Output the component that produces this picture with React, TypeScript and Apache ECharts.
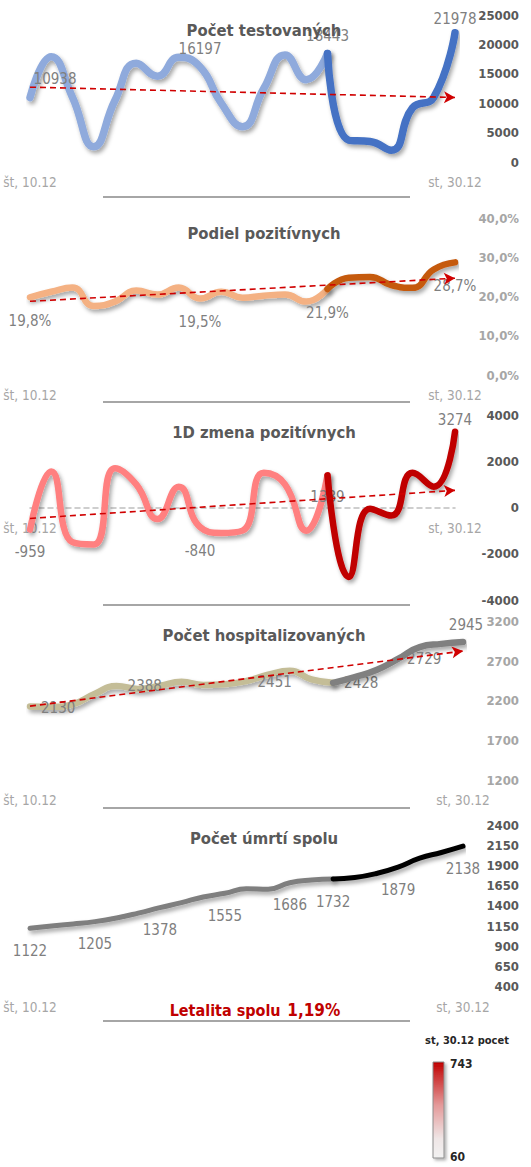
import React, { useEffect, useRef } from "react";
import * as echarts from "echarts";

const CATEGORIES = [
  "št, 10.12", "pi, 11.12", "so, 12.12", "ne, 13.12", "po, 14.12", "ut, 15.12", "st, 16.12",
  "št, 17.12", "pi, 18.12", "so, 19.12", "ne, 20.12", "po, 21.12", "ut, 22.12", "st, 23.12",
  "št, 24.12", "pi, 25.12", "so, 26.12", "ne, 27.12", "po, 28.12", "ut, 29.12", "st, 30.12",
];

const TESTED = [10938, 17900, 11000, 2600, 10500, 16800, 14600, 17800, 16197, 10000, 6000, 12500, 18200, 14000, 18443, 3700, 3500, 2000, 9200, 11000, 21978];
const POSITIVE_SHARE = [19.8, 21.2, 22.3, 17.6, 18.7, 21.5, 20.5, 22.3, 19.5, 21.2, 19.7, 20.2, 20.5, 18.7, 21.9, 24.8, 25.0, 22.9, 22.2, 26.9, 28.7];
const DAILY_CHANGE = [-959, 1560, -1500, -1600, 1700, 1000, -500, 900, -840, -1100, -1000, 1500, 1000, -1000, 1389, -3000, -50, -350, 1500, 900, 3274];
const HOSPITALIZED = [2130, 2125, 2160, 2290, 2388, 2350, 2390, 2440, 2400, 2410, 2451, 2530, 2580, 2470, 2428, 2500, 2590, 2729, 2880, 2920, 2945];
const DEATHS = [1122, 1150, 1175, 1205, 1250, 1310, 1378, 1440, 1510, 1555, 1610, 1605, 1686, 1720, 1732, 1750, 1800, 1879, 1990, 2060, 2138];

const TITLES = ["Počet testovaných", "Podiel pozitívnych", "1D zmena pozitívnych", "Počet hospitalizovaných", "Počet úmrtí spolu"];
const SPLIT_INDEX = 14;
const LETALITA = "1,19%";
const LEGEND_TITLE = "st, 30.12 pocet";
const LEGEND_MAX = "743";
const LEGEND_MIN = "60";

const FONT = "'DejaVu Sans Condensed', 'DejaVu Sans', sans-serif";
const DARK_TXT = "#595959";
const LIGHT_TXT = "#a6a6a6";
const LABEL_TXT = "#7f7f7f";
const TREND = "#d00000";

type Lab = { i: number; pos: string; offset?: number[]; distance?: number };

function trendEnds(vals: number[]) {
  const n = vals.length;
  let sx = 0, sy = 0, sxx = 0, sxy = 0;
  vals.forEach((v, i) => { sx += i; sy += v; sxx += i * i; sxy += i * v; });
  const b = (n * sxy - sx * sy) / (n * sxx - sx * sx);
  const a = (sy - b * sx) / n;
  return [a, a + b * (n - 1)];
}

function makeData(vals: number[], from: number, to: number, labels: Lab[], fmt: (v: number) => string) {
  return vals.map((v, i) => {
    if (i < from || i > to) return null;
    const lab = labels.find((l) => l.i === i);
    if (lab) {
      return {
        value: v,
        label: {
          show: true,
          position: lab.pos,
          offset: lab.offset || [0, 0],
          distance: lab.distance ?? 8,
          formatter: fmt(v),
          color: LABEL_TXT,
          fontSize: 15,
          fontFamily: FONT,
        },
      };
    }
    return v;
  });
}

type PanelCfg = {
  vals: number[];
  light: string;
  dark: string;
  width: number;
  top: number;
  height: number;
  right: number;
  min: number;
  max: number;
  interval: number;
  tickColor: string;
  axisFmt: (v: number) => string;
  labelFmt: (v: number) => string;
  labels: Lab[];
  trend: boolean;
  zeroLine?: boolean;
};

export default function App() {
  const ref = useRef<HTMLDivElement>(null);

  useEffect(() => {
    if (!ref.current) return;
    const chart = echarts.init(ref.current, undefined, { renderer: "svg" });

    const num = (v: number) => String(v);
    const pct = (v: number) => v.toFixed(1).replace(".", ",") + "%";

    const panels: PanelCfg[] = [
      {
        vals: TESTED, light: "#8faadc", dark: "#4472c4", width: 7.5, top: 15, height: 147, right: 76,
        min: 0, max: 25000, interval: 5000, tickColor: DARK_TXT, axisFmt: num, labelFmt: num,
        labels: [
          { i: 0, pos: "top", offset: [25, 0], distance: 10 },
          { i: 8, pos: "top", distance: 9 },
          { i: 14, pos: "top", distance: 9 },
          { i: 20, pos: "top", distance: 5 },
        ],
        trend: true,
      },
      {
        vals: POSITIVE_SHARE, light: "#f4b183", dark: "#c55a11", width: 6.5, top: 218, height: 157, right: 76,
        min: 0, max: 40, interval: 10, tickColor: LIGHT_TXT, axisFmt: pct, labelFmt: pct,
        labels: [
          { i: 0, pos: "bottom", distance: 15 },
          { i: 8, pos: "bottom", distance: 15 },
          { i: 14, pos: "bottom", distance: 15 },
          { i: 20, pos: "bottom", distance: 15 },
        ],
        trend: true,
      },
      {
        vals: DAILY_CHANGE, light: "#ff8080", dark: "#c00000", width: 6.5, top: 415, height: 185, right: 76,
        min: -4000, max: 4000, interval: 2000, tickColor: DARK_TXT, axisFmt: num, labelFmt: num,
        labels: [
          { i: 0, pos: "bottom", distance: 14 },
          { i: 8, pos: "bottom", distance: 16 },
          { i: 14, pos: "bottom", distance: 13 },
          { i: 20, pos: "top", distance: 3 },
        ],
        trend: true,
        zeroLine: true,
      },
      {
        vals: HOSPITALIZED, light: "#c4bd97", dark: "#808080", width: 6.5, top: 621.7, height: 158.3, right: 68,
        min: 1200, max: 3200, interval: 500, tickColor: LIGHT_TXT, axisFmt: num, labelFmt: num,
        labels: [
          { i: 0, pos: "right", offset: [0, 2], distance: 10 },
          { i: 4, pos: "right", distance: 10 },
          { i: 10, pos: "right", offset: [0, 1], distance: 10 },
          { i: 14, pos: "right", distance: 10 },
          { i: 17, pos: "right", distance: 8 },
          { i: 20, pos: "top", offset: [3, 0], distance: 8 },
        ],
        trend: true,
      },
      {
        vals: DEATHS, light: "#7f7f7f", dark: "#000000", width: 5, top: 825, height: 161.7, right: 68,
        min: 400, max: 2400, interval: 250, tickColor: DARK_TXT, axisFmt: num, labelFmt: num,
        labels: [0, 3, 6, 9, 12, 14, 17, 20].map((i) => ({ i, pos: "bottom", distance: 14 })),
        trend: false,
      },
    ];

    const grid: any[] = [];
    const xAxis: any[] = [];
    const yAxis: any[] = [];
    const series: any[] = [];
    const title: any[] = [];
    const titleY = [30, 233, 432, 635, 838];

    panels.forEach((p, k) => {
      grid.push({ left: 30, right: p.right, top: p.top, height: p.height, containLabel: false });
      const zeroOffset = p.zeroLine ? -(p.height * (0 - p.min)) / (p.max - p.min) : 0;
      xAxis.push({
        type: "category",
        gridIndex: k,
        data: CATEGORIES,
        boundaryGap: false,
        offset: zeroOffset,
        axisTick: { show: false },
        axisLine: p.zeroLine
          ? { show: true, onZero: false, lineStyle: { color: "#bfbfbf", type: [5, 4], width: 1.5 } }
          : { show: false, onZero: false },
        splitLine: { show: false },
        axisLabel: {
          interval: (i: number) => i === 0 || i === CATEGORIES.length - 1,
          color: LIGHT_TXT,
          fontSize: 13.5,
          fontFamily: FONT,
          margin: 13,
          showMinLabel: true,
          showMaxLabel: true,
        },
      });
      yAxis.push({
        type: "value",
        gridIndex: k,
        position: "right",
        min: p.min,
        max: p.max,
        interval: p.interval,
        splitLine: { show: false },
        axisLine: { show: false },
        axisTick: { show: false },
        axisLabel: {
          formatter: p.axisFmt,
          color: p.tickColor,
          fontWeight: "bold",
          fontSize: 13,
          fontFamily: FONT,
          align: "right",
          margin: 519 - (531 - p.right),
        },
      });
      const shadow = {
        shadowColor: "rgba(0,0,0,0.35)",
        shadowBlur: 4,
        shadowOffsetX: 2,
        shadowOffsetY: 3,
      };
      const base = {
        type: "line",
        xAxisIndex: k,
        yAxisIndex: k,
        smooth: 0.5,
        symbol: "circle",
        symbolSize: 2,
        showSymbol: true,
        showAllSymbol: true,
        connectNulls: false,
        itemStyle: { color: "rgba(0,0,0,0)", borderWidth: 0 },
        emphasis: { disabled: true },
        silent: true,
      };
      const lightLabels = p.labels.filter((l) => l.i <= SPLIT_INDEX);
      const darkLabels = p.labels.filter((l) => l.i > SPLIT_INDEX);
      const [t0, t1] = trendEnds(p.vals);
      series.push({
        ...base,
        name: TITLES[k] + " A",
        data: makeData(p.vals, 0, SPLIT_INDEX, lightLabels, p.labelFmt),
        lineStyle: { color: p.light, width: p.width, cap: "round", ...shadow },
        z: 2,
      });
      series.push({
        ...base,
        name: TITLES[k] + " B",
        data: makeData(p.vals, SPLIT_INDEX, p.vals.length - 1, darkLabels, p.labelFmt),
        lineStyle: { color: p.dark, width: p.width, cap: "round", ...shadow },
        z: 3,
        markLine: p.trend
          ? {
              silent: true,
              symbol: ["none", "arrow"],
              symbolSize: [9, 11],
              label: { show: false },
              lineStyle: { color: TREND, type: [6, 4], width: 1.6 },
              data: [[{ coord: [0, t0] }, { coord: [p.vals.length - 1, t1] }]],
              z: 5,
            }
          : undefined,
      });
      title.push({
        text: TITLES[k],
        left: 259,
        top: titleY[k] - 13,
        textAlign: "center",
        textStyle: { color: DARK_TXT, fontWeight: "bold", fontSize: 16.5, fontFamily: FONT },
      });
    });

    const sepY = [197, 402, 605, 808, 1021];
    const graphic: any[] = sepY.map((y) => ({
      type: "line",
      shape: { x1: 103, y1: y, x2: 410, y2: y },
      style: { stroke: "#a6a6a6", lineWidth: 2 },
      silent: true,
    }));
    graphic.push({
      type: "text",
      x: 255,
      y: 1010,
      style: {
        text: "{a|Letalita spolu}  {b|" + LETALITA + "}",
        align: "center",
        verticalAlign: "middle",
        rich: {
          a: { fill: "#c00000", fontWeight: "bold", fontSize: 16, fontFamily: FONT },
          b: { fill: "#c00000", fontWeight: "bold", fontSize: 17, fontFamily: FONT },
        },
      },
    });
    graphic.push({
      type: "text",
      x: 467,
      y: 1040,
      style: {
        text: LEGEND_TITLE,
        align: "center",
        verticalAlign: "middle",
        fill: "#262626",
        fontWeight: "bold",
        fontSize: 11,
        fontFamily: FONT,
      },
    });
    graphic.push({
      type: "rect",
      shape: { x: 433, y: 1062, width: 11, height: 96 },
      style: {
        fill: new echarts.graphic.LinearGradient(0, 0, 0, 1, [
          { offset: 0, color: "#c00000" },
          { offset: 0.45, color: "#e49a9a" },
          { offset: 0.8, color: "#efe6e6" },
          { offset: 1, color: "#f2f2f2" },
        ]),
        stroke: "#8c8c8c",
        lineWidth: 1,
        shadowColor: "rgba(0,0,0,0.3)",
        shadowBlur: 3,
        shadowOffsetX: 2,
        shadowOffsetY: 2,
      },
    });
    graphic.push({
      type: "text",
      x: 450,
      y: 1064,
      style: { text: LEGEND_MAX, verticalAlign: "middle", fill: "#262626", fontWeight: "bold", fontSize: 12, fontFamily: FONT },
    });
    graphic.push({
      type: "text",
      x: 450,
      y: 1157,
      style: { text: LEGEND_MIN, verticalAlign: "middle", fill: "#262626", fontWeight: "bold", fontSize: 12, fontFamily: FONT },
    });

    chart.setOption({
      animation: false,
      backgroundColor: "#ffffff",
      title,
      grid,
      xAxis,
      yAxis,
      series,
      graphic,
    });

    return () => chart.dispose();
  }, []);

  return (
    <div
      ref={ref}
      style={{ position: "absolute", left: 0, top: 0, width: 531, height: 1167, background: "#fff" }}
    />
  );
}
